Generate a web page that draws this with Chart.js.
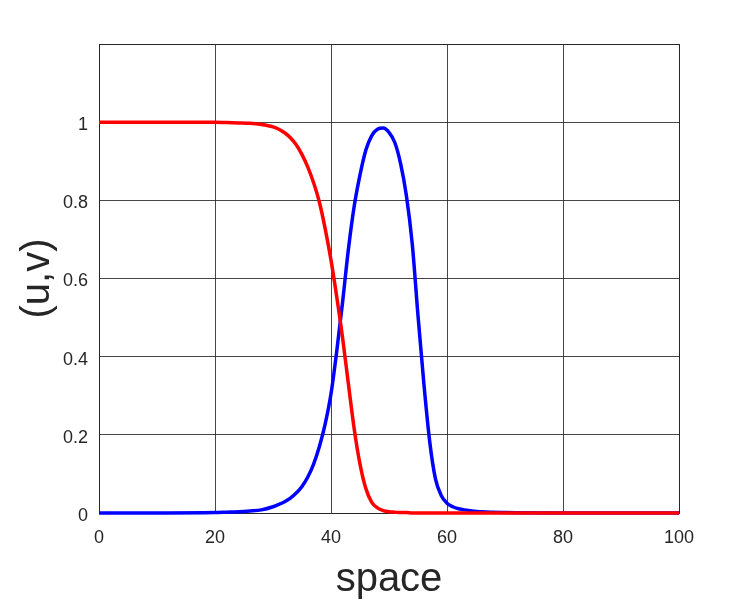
<!DOCTYPE html>
<html>
<head>
<meta charset="utf-8">
<script src="https://cdn.jsdelivr.net/npm/chart.js@4/dist/chart.umd.min.js"></script>
<style>
html,body{margin:0;padding:0;background:#fff;}
#wrap{width:750px;height:600px;position:relative;}
</style>
</head>
<body>
<div id="wrap"><canvas id="c" width="750" height="600"></canvas></div>
<script>
// Sample positions along "space"
const space = [0,10,20,22,24,26,28,30,31,32,33,34,35,36,37,38,39,40,41,42,43,44,45,46,47,48,49,50,51,52,53,54,55,56,57,58,59,60,61,62,63,64,66,70,80,90,100];
// u (red)
const uValues = [1,1,1,0.999,0.998,0.997,0.994,0.988,0.982,0.973,0.96,0.942,0.917,0.885,0.845,0.795,0.727,0.647,0.552,0.448,0.33,0.215,0.125,0.063,0.028,0.013,0.006,0.003,0.002,0.001,0.001,0,0,0,0,0,0,0,0,0,0,0,0,0,0,0,0];
// v (blue)
const vValues = [0,0,0.001,0.002,0.003,0.005,0.008,0.016,0.022,0.029,0.038,0.051,0.068,0.092,0.125,0.17,0.228,0.305,0.415,0.54,0.675,0.785,0.865,0.928,0.965,0.982,0.985,0.974,0.948,0.894,0.812,0.69,0.505,0.333,0.185,0.088,0.045,0.025,0.016,0.011,0.008,0.006,0.003,0.001,0,0,0];
const xTicks = [0,20,40,60,80,100];
const yTicks = [0,0.2,0.4,0.6,0.8,1];
const yGrid = [0,0.2,0.4,0.6,0.8,1,1.2];

const toPts = ys => space.map((x,i)=>({x:x,y:ys[i]}));
const FONT = "'Liberation Sans', Arial, Helvetica, sans-serif";
const TXT = '#262626';

const boxPlugin = {
  id:'box',
  beforeDatasetsDraw(chart){
    const {ctx, chartArea:a} = chart;
    ctx.save();
    ctx.strokeStyle = TXT;
    ctx.lineWidth = 1;
    ctx.strokeRect(Math.round(a.left)+0.5, Math.round(a.top)+0.5, Math.round(a.right-a.left), Math.round(a.bottom-a.top));
    ctx.restore();
  }
};

new Chart(document.getElementById('c'), {
  type:'line',
  data:{
    datasets:[
      {label:'u', data:toPts(uValues), borderColor:'#ff0000', borderWidth:3.5, pointRadius:0, cubicInterpolationMode:'monotone', clip:6, fill:false},
      {label:'v', data:toPts(vValues), borderColor:'#0000ff', borderWidth:3.5, pointRadius:0, cubicInterpolationMode:'monotone', clip:6, fill:false}
    ]
  },
  options:{
    responsive:false,
    animation:false,
    devicePixelRatio:1,
    layout:{padding:{top:44,right:71,left:0,bottom:0}},
    plugins:{legend:{display:false}, tooltip:{enabled:false}},
    scales:{
      x:{
        type:'linear', min:0, max:100,
        afterFit(s){ s.height = 87; },
        afterBuildTicks(s){ s.ticks = xTicks.map(v=>({value:v})); },
        grid:{color:'rgba(38,38,38,0.85)', lineWidth:1, tickLength:0, drawTicks:false},
        border:{display:false},
        ticks:{font:{family:FONT,size:18}, color:TXT, padding:14, maxRotation:0},
        title:{display:true, text:'space', font:{family:FONT,size:40,lineHeight:1}, color:TXT, padding:{top:0,bottom:0}}
      },
      y:{
        type:'linear', min:0, max:1.2,
        afterFit(s){ s.width = 99; },
        afterBuildTicks(s){ s.ticks = yGrid.map(v=>({value:v})); },
        grid:{color:'rgba(38,38,38,0.85)', lineWidth:1, tickLength:0, drawTicks:false},
        border:{display:false},
        ticks:{font:{family:FONT,size:18}, color:TXT, padding:11, labelOffset:3,
          callback:(v)=> yTicks.some(t=>Math.abs(t-v)<1e-9) ? String(Math.round(v*10)/10) : ''},
        title:{display:true, text:'(u,v)', font:{family:FONT,size:40,lineHeight:1}, color:TXT, padding:{top:18,bottom:0}}
      }
    }
  },
  plugins:[boxPlugin]
});
</script>
</body>
</html>
